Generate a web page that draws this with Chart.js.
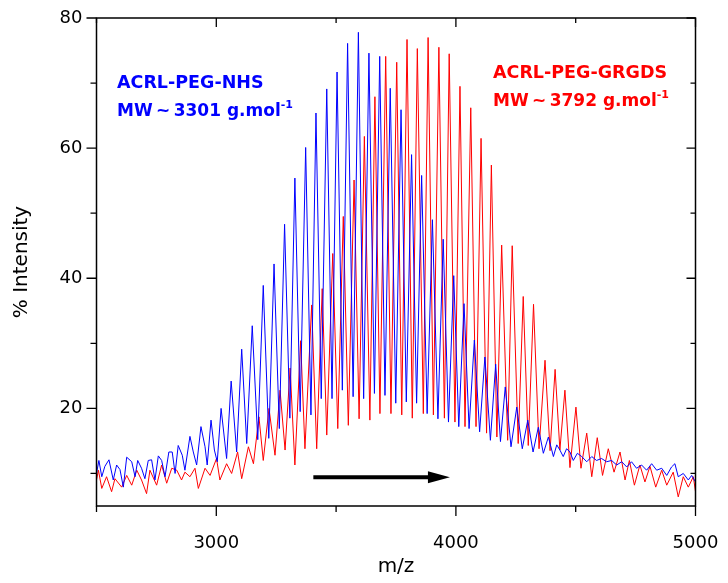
<!DOCTYPE html>
<html>
<head>
<meta charset="utf-8">
<script src="https://cdn.jsdelivr.net/npm/chart.js@4.4.1/dist/chart.umd.min.js"></script>
<style>
  html, body { margin: 0; padding: 0; background: #fff; }
  #wrap { width: 728px; height: 583px; }
</style>
</head>
<body>
<div id="wrap"><canvas id="ms"></canvas></div>
<script>
// ACRL-PEG-NHS spectrum (m/z, % intensity), peaks and valleys
const blueMz = [2500, 2510, 2522, 2535, 2552, 2570, 2584, 2598, 2612, 2626, 2647, 2661, 2672, 2688, 2702, 2716, 2730, 2744, 2758, 2772,
  2786, 2802, 2816, 2828, 2841, 2858, 2869, 2890, 2904, 2918, 2936, 2953, 2962, 2978, 2992, 3004, 3020, 3043, 3062, 3085,
  3106, 3127, 3150, 3173, 3196, 3219, 3241, 3263, 3285, 3307, 3328, 3350, 3373, 3395, 3416, 3438, 3461, 3483, 3504, 3526,
  3548, 3571, 3593, 3615, 3637, 3660, 3682, 3704, 3726, 3749, 3771, 3793, 3815, 3836, 3857, 3880, 3902, 3925, 3947, 3969,
  3991, 4012, 4034, 4055, 4077, 4099, 4121, 4144, 4166, 4186, 4206, 4230, 4254, 4277, 4300, 4322, 4344, 4365, 4386, 4407,
  4421, 4434, 4448, 4462, 4476, 4490, 4507, 4525, 4546, 4567, 4587, 4608, 4629, 4650, 4671, 4692, 4713, 4733, 4754, 4775,
  4796, 4817, 4838, 4859, 4880, 4900, 4914, 4928, 4949, 4970, 4984, 5000];
const blueInt = [10.0, 12.0, 9.5, 11.1, 12.1, 9.0, 11.3, 10.6, 7.9, 12.5, 11.8, 9.5, 12.0, 10.8, 9.2, 12.0, 12.1, 9.0, 12.7, 12.0,
  9.5, 13.3, 13.3, 10.0, 14.3, 12.8, 10.5, 15.7, 13.3, 11.3, 17.2, 14.1, 11.3, 18.2, 13.6, 11.8, 20.0, 12.3, 24.2, 13.3,
  29.1, 14.6, 32.7, 15.2, 38.9, 15.4, 42.2, 16.9, 48.3, 18.5, 55.4, 19.5, 60.1, 19.0, 65.4, 21.5, 69.1, 21.5, 71.7, 22.8,
  76.1, 21.8, 77.8, 21.5, 74.6, 22.3, 74.1, 22.0, 69.2, 20.8, 65.9, 21.0, 59.0, 20.8, 55.8, 19.2, 49.0, 18.4, 46.0, 17.9,
  40.4, 17.2, 36.1, 16.9, 30.5, 16.4, 27.9, 15.1, 26.8, 14.9, 23.3, 14.1, 20.2, 13.8, 18.2, 13.3, 17.1, 13.1, 15.6, 12.6,
  14.4, 13.6, 12.6, 13.8, 13.3, 12.0, 13.1, 12.6, 11.8, 12.6, 12.0, 12.3, 11.8, 12.0, 11.3, 11.8, 11.0, 11.8, 10.8, 11.3,
  10.5, 11.5, 10.5, 10.8, 9.7, 11.0, 11.5, 9.5, 10.0, 9.0, 9.7, 8.7];

// ACRL-PEG-GRGDS spectrum
const redMz = [2500, 2508, 2522, 2542, 2563, 2577, 2605, 2626, 2647, 2668, 2688, 2709, 2723, 2751, 2772, 2793, 2814, 2835, 2855, 2869,
  2890, 2911, 2925, 2953, 2974, 3001, 3015, 3043, 3064, 3089, 3106, 3134, 3155, 3178, 3196, 3220, 3245, 3266, 3287, 3308,
  3328, 3352, 3370, 3398, 3419, 3442, 3461, 3486, 3507, 3530, 3551, 3575, 3596, 3618, 3641, 3662, 3683, 3707, 3729, 3753,
  3774, 3796, 3818, 3839, 3864, 3884, 3906, 3929, 3952, 3972, 3996, 4017, 4038, 4062, 4084, 4105, 4128, 4148, 4171, 4191,
  4216, 4235, 4260, 4281, 4302, 4324, 4347, 4372, 4393, 4414, 4434, 4455, 4476, 4501, 4522, 4546, 4567, 4590, 4612, 4636,
  4660, 4685, 4706, 4724, 4745, 4768, 4789, 4810, 4834, 4859, 4880, 4907, 4928, 4949, 4970, 4991, 5000];
const redInt = [9.0, 10.5, 7.7, 9.5, 7.2, 9.2, 7.9, 9.7, 8.2, 10.5, 9.0, 6.9, 10.5, 8.2, 11.3, 8.5, 10.8, 10.5, 9.0, 10.2,
  9.5, 10.8, 7.7, 10.8, 9.7, 12.3, 9.0, 11.5, 10.0, 13.3, 9.2, 14.1, 11.5, 18.7, 12.0, 20.0, 12.8, 22.8, 13.6, 26.2,
  11.3, 30.4, 13.8, 35.9, 13.8, 38.4, 15.9, 43.8, 16.9, 49.5, 17.4, 55.1, 18.4, 61.8, 18.2, 67.9, 19.2, 74.1, 19.2, 73.2,
  19.0, 76.7, 18.5, 75.3, 19.2, 77.0, 19.0, 75.5, 18.5, 74.5, 17.9, 69.5, 17.2, 66.2, 17.2, 61.5, 16.2, 57.4, 15.6, 45.1,
  15.1, 45.0, 14.6, 37.2, 14.3, 36.0, 13.8, 27.4, 13.5, 26.0, 13.6, 22.8, 10.9, 20.2, 10.8, 16.2, 9.5, 15.5, 9.7, 13.8,
  10.2, 13.3, 9.0, 12.0, 8.2, 11.3, 8.7, 11.1, 7.9, 10.5, 8.2, 10.2, 6.4, 9.5, 7.9, 9.5, 7.2];

const xMajorTicks = [3000, 4000, 5000];
const xMinorTicks = [2500, 3500, 4500];
const yMajorTicks = [20, 40, 60, 80];
const yMinorTicks = [10, 30, 50, 70];
const arrowMz = [3405, 3975];
const arrowLevel = 9.4;

const BLUE = '#0000ff';
const RED = '#ff0000';
const FONT = "'DejaVu Sans', Verdana, sans-serif";

function toPoints(xs, ys) {
    return xs.map((x, i) => ({ x: x, y: ys[i] }));
}

// frame, tick marks, arrow and the two labels
const decorations = {
    id: 'decorations',
    afterDraw(chart) {
        const ctx = chart.ctx;
        const xs = chart.scales.x;
        const ys = chart.scales.y;
        const a = chart.chartArea;
        ctx.save();
        ctx.strokeStyle = '#000';
        ctx.lineWidth = 1.5;
        ctx.strokeRect(a.left, a.top, a.right - a.left, a.bottom - a.top);

        ctx.lineWidth = 1.3;
        ctx.beginPath();
        const tick = (x1, y1, x2, y2) => { ctx.moveTo(x1, y1); ctx.lineTo(x2, y2); };
        xMajorTicks.forEach(v => {
            const px = xs.getPixelForValue(v);
            tick(px, a.bottom, px, a.bottom + 10);
            tick(px, a.top, px, a.top + 9);
        });
        xMinorTicks.forEach(v => {
            const px = xs.getPixelForValue(v);
            tick(px, a.bottom, px, a.bottom + 6);
            tick(px, a.top, px, a.top + 5);
        });
        yMajorTicks.forEach(v => {
            const py = ys.getPixelForValue(v);
            tick(a.left - 10, py, a.left, py);
            tick(a.right - 9, py, a.right, py);
        });
        yMinorTicks.forEach(v => {
            const py = ys.getPixelForValue(v);
            tick(a.left - 6, py, a.left, py);
            tick(a.right - 5, py, a.right, py);
        });
        ctx.stroke();

        // shift arrow
        const ay = ys.getPixelForValue(arrowLevel);
        const ax0 = xs.getPixelForValue(arrowMz[0]);
        const ax1 = xs.getPixelForValue(arrowMz[1]);
        ctx.lineWidth = 4;
        ctx.beginPath();
        ctx.moveTo(ax0, ay);
        ctx.lineTo(ax1 - 18, ay);
        ctx.stroke();
        ctx.fillStyle = '#000';
        ctx.beginPath();
        ctx.moveTo(ax1 - 22, ay - 6);
        ctx.lineTo(ax1, ay);
        ctx.lineTo(ax1 - 22, ay + 6);
        ctx.closePath();
        ctx.fill();

        // sample labels
        const label = (color, x, y1, line1, line2, sup) => {
            ctx.fillStyle = color;
            ctx.textAlign = 'left';
            ctx.textBaseline = 'alphabetic';
            ctx.font = 'bold 17.5px ' + FONT;
            ctx.fillText(line1, x, y1);
            ctx.font = 'bold 17px ' + FONT;
            ctx.fillText(line2, x, y1 + 28);
            const w = ctx.measureText(line2).width;
            ctx.font = 'bold 11px ' + FONT;
            ctx.fillText(sup, x + w, y1 + 20);
        };
        label(BLUE, 117, 88, 'ACRL-PEG-NHS', 'MW\u2009~\u20093301 g.mol', '-1');
        label(RED, 493, 78, 'ACRL-PEG-GRGDS', 'MW\u2009~\u20093792 g.mol', '-1');
        ctx.restore();
    }
};

// no label overhang padding, so the plot box is set by layout.padding only
function noOverhang(s) {
    s.paddingLeft = 0;
    s.paddingRight = 0;
    s.paddingTop = 0;
    s.paddingBottom = 0;
}

const ctx = document.getElementById('ms').getContext('2d');
const msChart = new Chart(ctx, {
    type: 'line',
    data: {
        datasets: [
            {
                label: 'ACRL-PEG-GRGDS',
                data: toPoints(redMz, redInt),
                borderColor: RED,
                borderWidth: 1,
                pointRadius: 0,
                tension: 0,
                order: 2
            },
            {
                label: 'ACRL-PEG-NHS',
                data: toPoints(blueMz, blueInt),
                borderColor: BLUE,
                borderWidth: 1,
                pointRadius: 0,
                tension: 0,
                order: 1
            }
        ]
    },
    options: {
        responsive: true,
        maintainAspectRatio: false,
        animation: false,
        parsing: false,
        layout: { padding: { top: 18, right: 32.5, left: 0, bottom: 0 } },
        plugins: {
            legend: { display: false },
            tooltip: { enabled: false }
        },
        scales: {
            x: {
                type: 'linear',
                min: 2500,
                max: 5000,
                grid: { display: false, drawTicks: false },
                border: { display: false },
                ticks: {
                    stepSize: 500,
                    padding: 27,
                    maxRotation: 0,
                    autoSkip: false,
                    color: '#000',
                    font: { family: FONT, size: 18 },
                    callback: v => xMajorTicks.includes(v) ? String(v) : ''
                },
                title: {
                    display: true,
                    text: 'm/z',
                    color: '#000',
                    font: { family: FONT, size: 20 },
                    padding: { top: 0, bottom: 4 }
                },
                afterFit: s => { s.height = 77; noOverhang(s); }
            },
            y: {
                type: 'linear',
                min: 5,
                max: 80,
                grid: { display: false, drawTicks: false },
                border: { display: false },
                ticks: {
                    stepSize: 10,
                    padding: 14,
                    color: '#000',
                    font: { family: FONT, size: 18 },
                    callback: v => yMajorTicks.includes(v) ? String(v) : ''
                },
                title: {
                    display: true,
                    text: '% Intensity',
                    color: '#000',
                    font: { family: FONT, size: 20 },
                    padding: { top: 10, bottom: 0 }
                },
                afterFit: s => { s.width = 96.5; noOverhang(s); }
            }
        }
    },
    plugins: [decorations]
});
</script>
</body>
</html>
